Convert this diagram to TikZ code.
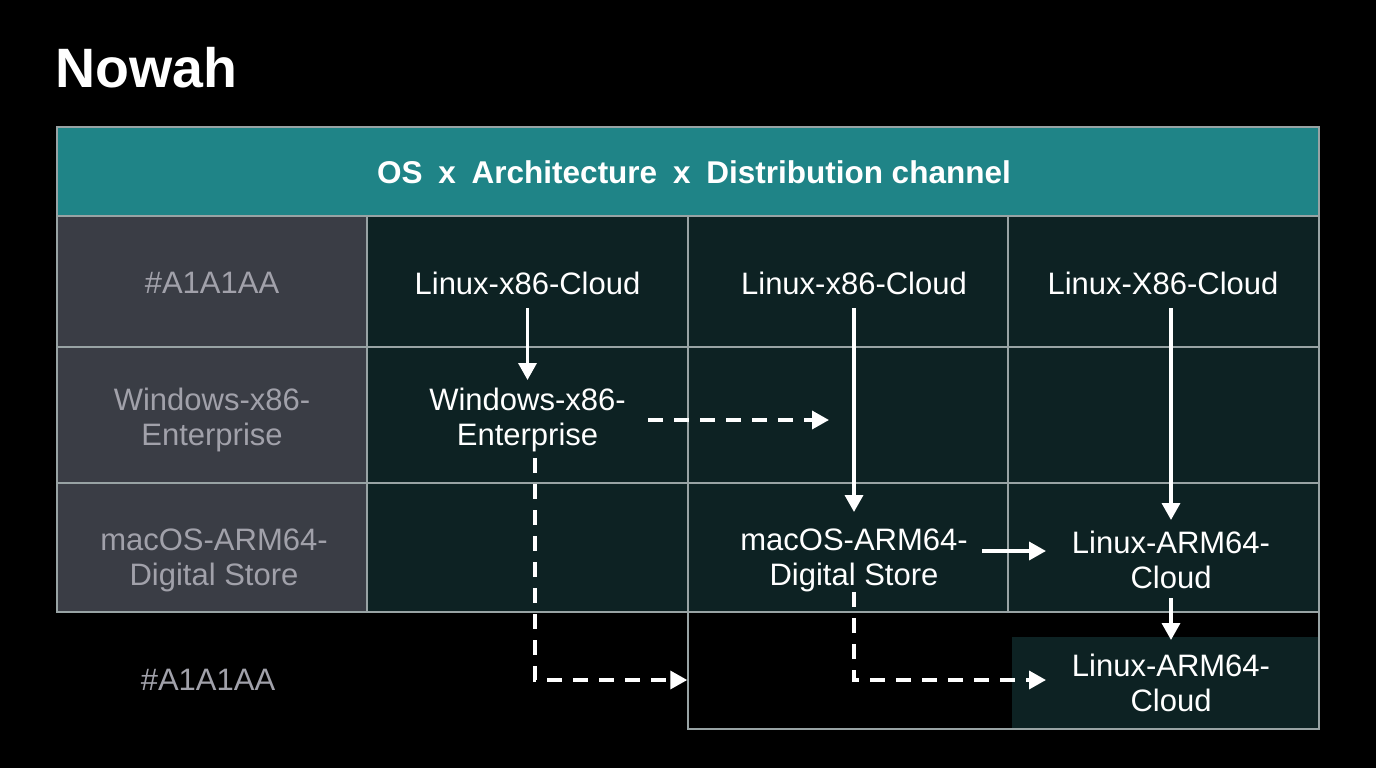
\documentclass[tikz,border=0pt]{standalone}
\usepackage{fontspec}
\setmainfont{Liberation Sans}
\usetikzlibrary{arrows.meta,calc}
\definecolor{tealhead}{HTML}{1F8487}
\definecolor{leftgray}{HTML}{3A3D45}
\definecolor{darkcell}{HTML}{0D2223}
\definecolor{gridline}{HTML}{98A3A4}
\definecolor{graytext}{HTML}{A1A1AA}
\tikzset{
  celltext/.style={text=white, align=center, inner sep=0pt, font=\fontsize{31}{35}\selectfont},
  sidetext/.style={text=graytext, align=center, inner sep=0pt, font=\fontsize{31}{35}\selectfont},
  gridln/.style={draw=gridline, line width=1.5pt},
  solidarrow/.style={draw=white, line width=3.5pt, -{Triangle[length=17pt,width=18pt]}},
  dasharrow/.style={draw=white, line width=3.5pt, dash pattern=on 15pt off 11pt, -{Triangle[length=17pt,width=18pt]}},
}
\begin{document}
\begin{tikzpicture}[x=1pt,y=-1pt]
\fill[black] (0,0) rectangle (1376,768);
\useasboundingbox (0,0) rectangle (1376,768);
% fills
\fill[tealhead] (57,127) rectangle (1319,216);
\fill[leftgray] (57,216) rectangle (367,612);
\fill[darkcell] (367,216) rectangle (1319,612);
\fill[darkcell] (1012,637) rectangle (1319,729);
% grid
\draw[gridln] (57,127) rectangle (1319,612);
\foreach \yy in {216,347,483} \draw[gridln] (57,\yy) -- (1319,\yy);
\foreach \xx in {367,688,1008} \draw[gridln] (\xx,216) -- (\xx,612);
\node[gridln, draw, minimum width=631pt, minimum height=117pt, inner sep=0pt] (bx) at (1003.5,670.5) {};
% title
\node[text=white, anchor=base west, inner sep=0pt, font=\bfseries\fontsize{55.5}{60}\selectfont] (title) at (55,88) {Nowah};
% header
\node[text=white, inner sep=0pt, font=\bfseries\fontsize{31.5}{35}\selectfont] (head) at (694,172) {OS\hspace{0.5em}x\hspace{0.5em}Architecture\hspace{0.5em}x\hspace{0.5em}Distribution channel};
% left column
\node[sidetext] (s1) at (212,283) {\#A1A1AA};
\node[sidetext] (s2) at (212,420) {Windows-x86-\\Enterprise};
\node[sidetext] (s3) at (214,560) {macOS-ARM64-\\Digital Store};
\node[sidetext] (s4) at (208,680) {\#A1A1AA};
% cells
\node[celltext] (c22) at (527.5,283) {Linux-x86-Cloud};
\node[celltext] (c23) at (854,283) {Linux-x86-Cloud};
\node[celltext] (c24) at (1163,283) {Linux-X86-Cloud};
\node[celltext] (w) at (527.5,420) {Windows-x86-\\Enterprise};
\node[celltext] (m) at (854,560) {macOS-ARM64-\\Digital Store};
\node[celltext] (la) at (1171,560) {Linux-ARM64-\\Cloud};
\node[celltext] (lb) at (1171,683) {Linux-ARM64-\\Cloud};
\coordinate (wt) at (829,420);
% arrows
\draw[solidarrow] ($(c22)+(0,25)$) -- ($(w)+(0,-40)$);
\draw[dasharrow] ($(w)+(120.5,0)$) -- (wt);
\draw[solidarrow] ($(c23)+(0,25)$) -- ($(m)+(0,-48)$);
\draw[solidarrow] ($(la.center |- c24.center)+(0,25)$) -- ($(la)+(0,-40)$);
\draw[solidarrow] ($(m)+(128,-9)$) -- ($(la)+(-125,-9)$);
\draw[solidarrow] ($(la)+(0,38)$) -- ($(lb)+(0,-43)$);
\draw[dasharrow] ($(w)+(7.5,38)$) |- ([yshift=-9.5pt]bx.west);
\draw[dasharrow] ($(m)+(0,32)$) |- ($(lb)+(-125,-3)$);
\end{tikzpicture}
\end{document}
